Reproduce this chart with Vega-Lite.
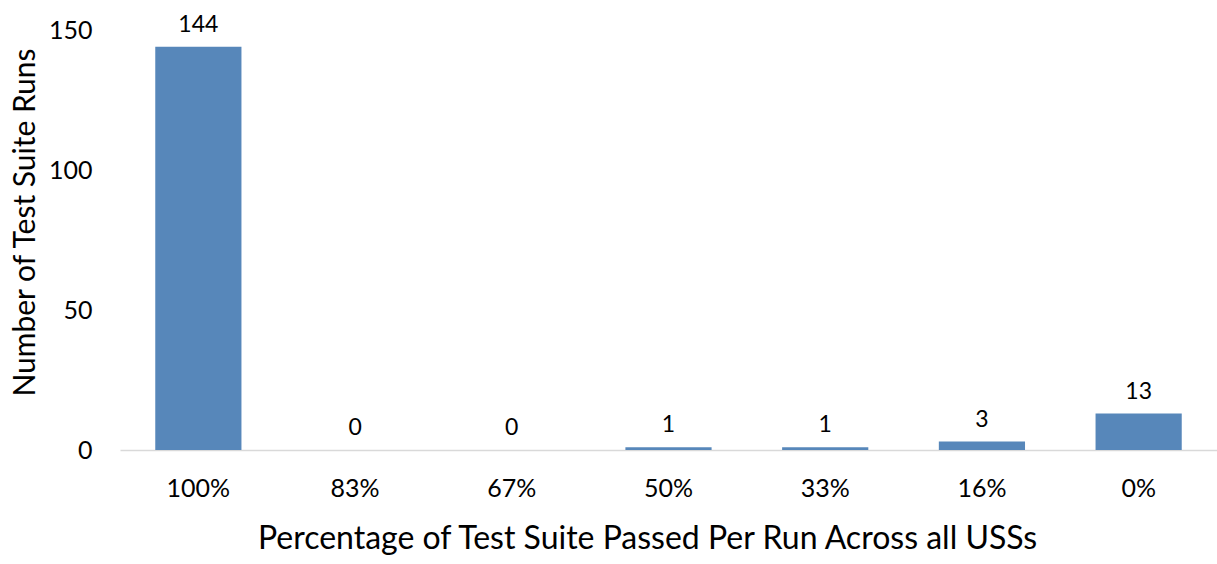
{
  "$schema": "https://vega.github.io/schema/vega-lite/v6.json",
  "autosize": "none",
  "width": 1097,
  "height": 420,
  "padding": {"left": 120, "top": 30, "right": 0, "bottom": 114},
  "background": "white",
  "config": {"view": {"stroke": null}, "font": "Lato"},
  "data": {"values": [
    {"pct": "100%", "runs": 144},
    {"pct": "83%", "runs": 0},
    {"pct": "67%", "runs": 0},
    {"pct": "50%", "runs": 1},
    {"pct": "33%", "runs": 1},
    {"pct": "16%", "runs": 3},
    {"pct": "0%", "runs": 13}
  ]},
  "encoding": {
    "x": {
      "field": "pct", "type": "nominal", "sort": null,
      "scale": {"paddingInner": 0.45, "paddingOuter": 0.225},
      "axis": {
        "title": "Percentage of Test Suite Passed Per Run Across all USSs",
        "titleFont": "Lato", "titleFontSize": 32, "titleFontWeight": "normal", "titleColor": "#000",
        "titlePadding": 22, "titleX": 527,
        "labelAngle": 0, "labelFont": "Lato", "labelFontSize": 25, "labelColor": "#000", "labelPadding": 26,
        "ticks": false, "domainColor": "#d9d9d9", "domainWidth": 1.5, "grid": false
      }
    },
    "y": {
      "field": "runs", "type": "quantitative",
      "scale": {"domain": [0, 150], "nice": false},
      "axis": {
        "title": "Number of Test Suite Runs",
        "titleFont": "Lato", "titleFontSize": 30, "titleFontWeight": "normal", "titleColor": "#000",
        "titlePadding": 8, "titleY": 192,
        "values": [0, 50, 100, 150],
        "labelFont": "Lato", "labelFontSize": 25, "labelColor": "#000", "labelPadding": 28,
        "ticks": false, "domain": false, "grid": false
      }
    }
  },
  "layer": [
    {"mark": {"type": "bar", "color": "#5787BA"}},
    {"mark": {"type": "text", "baseline": "alphabetic", "dy": -15, "fontSize": 23, "font": "Lato", "color": "#000"},
     "encoding": {"text": {"field": "runs", "type": "quantitative"}}}
  ]
}
